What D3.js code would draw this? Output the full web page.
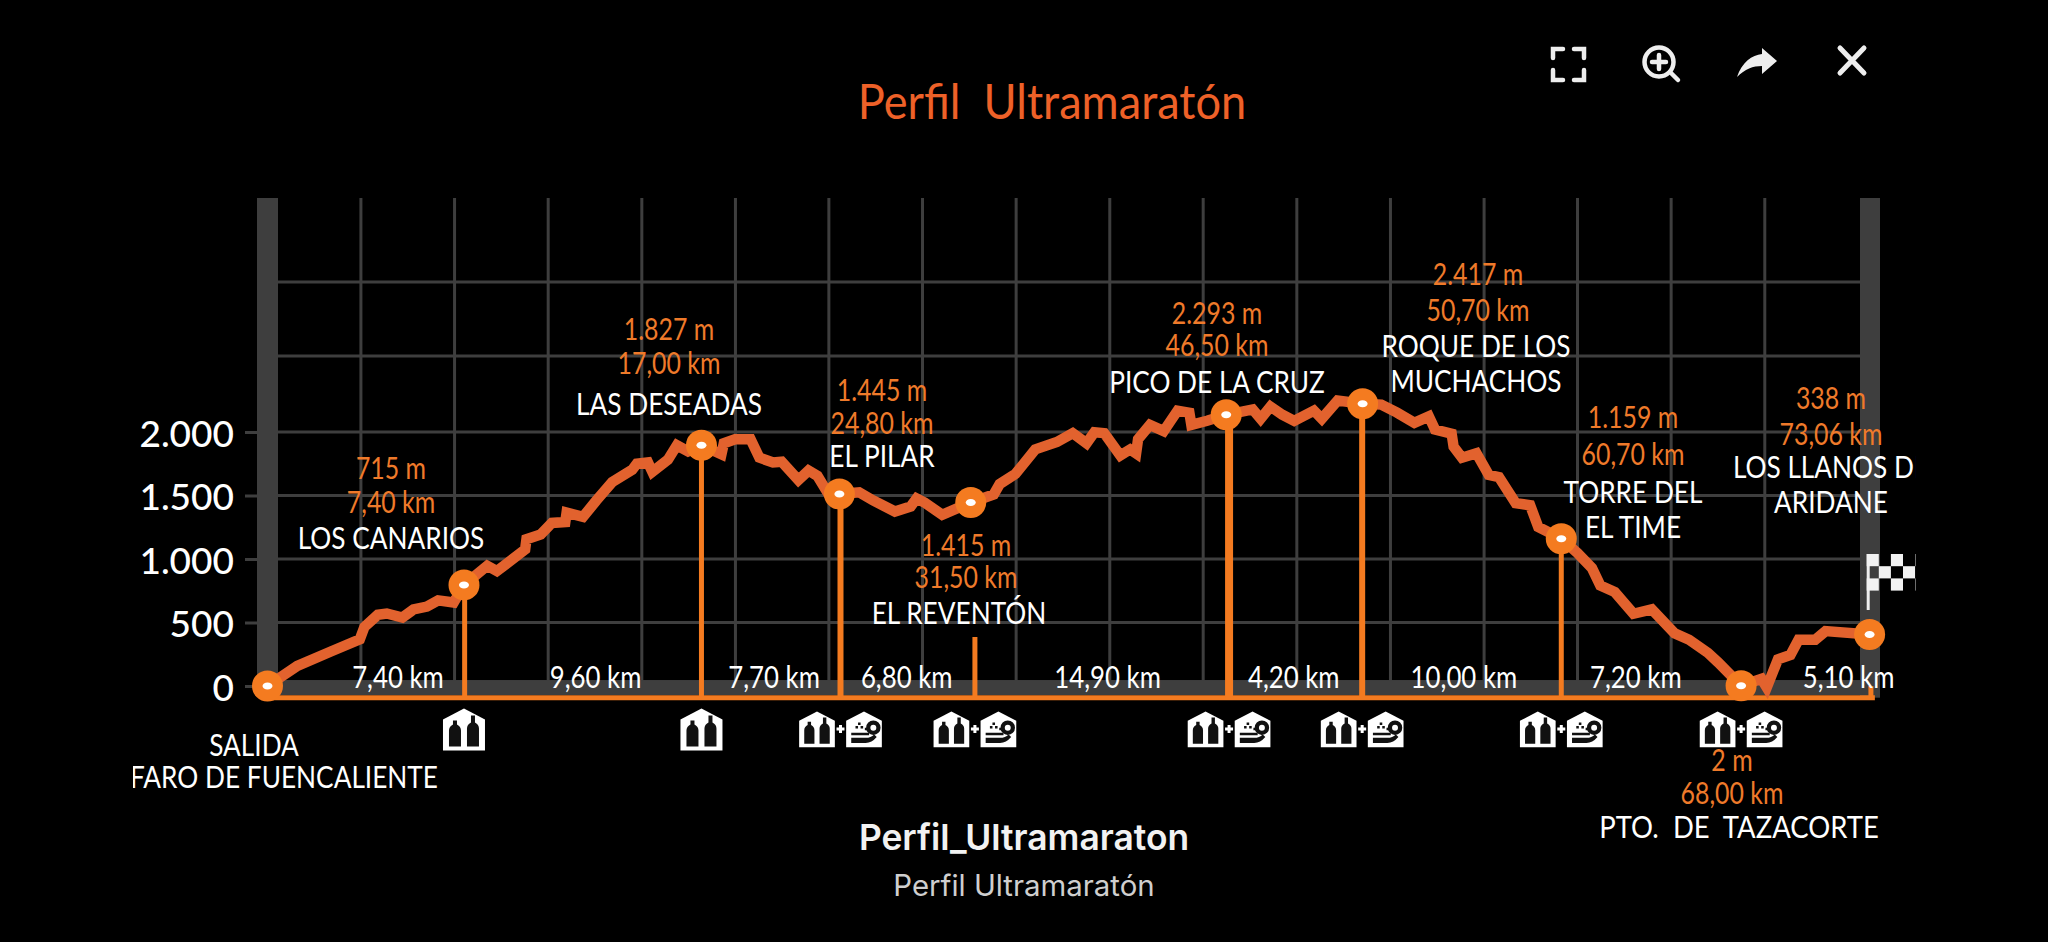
<!DOCTYPE html>
<html>
<head>
<meta charset="utf-8">
<title>Perfil Ultramaratón</title>
<script src="https://cdn.jsdelivr.net/npm/d3@7"></script>
<style>
  html, body { margin: 0; background: #000; overflow: hidden; }
  text { font-family: Lato, sans-serif; }
</style>
</head>
<body>
<script>
// profile as drawn: position along the axis (km) and height on the axis (m)
const profileKm = [0, 1.36, 2.89, 4.21, 4.42, 5.03, 5.44, 6.15, 6.66, 7.27, 7.78, 8.49, 8.96, 10.02, 10.46, 11.75, 11.81, 12.46, 12.97, 13.58, 13.64, 14.39, 15.0, 15.72, 16.63, 16.84, 17.35, 17.55, 18.26, 18.67, 19.18, 19.79, 20.7, 20.81, 21.32, 22.03, 22.43, 23.05, 23.45, 24.21, 24.67, 25.08, 25.59, 26.08, 26.98, 27.62, 28.61, 29.33, 29.6, 29.96, 30.77, 32.07, 33.12, 33.39, 34.11, 35.01, 36.0, 36.72, 37.35, 37.71, 38.16, 38.89, 39.34, 39.61, 39.7, 40.24, 40.87, 41.5, 42.04, 42.13, 42.85, 43.72, 44.93, 45.29, 45.74, 46.28, 46.82, 47.72, 48.08, 48.8, 49.94, 50.79, 51.51, 52.3, 52.96, 53.24, 54, 54.09, 54.47, 55.13, 55.69, 56.16, 56.92, 57.58, 57.95, 59.0, 59.74, 60.4, 60.78, 61.44, 62.29, 63.13, 64.17, 64.83, 65.68, 66.15, 67.2, 68.13, 68.37, 68.88, 69.45, 69.82, 70.58, 71.05, 73.06];
const profileM = [0, 159, 272, 368, 465, 561, 571, 539, 603, 625, 674, 657, 796, 947, 905, 1075, 1156, 1194, 1284, 1291, 1365, 1332, 1461, 1606, 1702, 1750, 1760, 1686, 1782, 1895, 1847, 1895, 1824, 1911, 1943, 1943, 1798, 1760, 1766, 1622, 1696, 1654, 1509, 1512, 1525, 1461, 1374, 1413, 1477, 1445, 1348, 1445, 1509, 1590, 1670, 1863, 1921, 1991, 1911, 1998, 1991, 1815, 1863, 1831, 1943, 2056, 2007, 2168, 2152, 2056, 2088, 2136, 2178, 2104, 2200, 2136, 2088, 2168, 2104, 2248, 2223, 2216, 2152, 2072, 2123, 2020, 1986, 1884, 1798, 1833, 1662, 1645, 1440, 1423, 1252, 1160, 1047, 928, 791, 740, 569, 603, 415, 364, 262, 186, 2, 57, -12, 210, 244, 364, 364, 432, 405];

// stations, start to finish
const stationAxisKm = [0, 8.96, 19.79, 26.08, 32.07, 43.72, 49.94, 59.0, 67.2, 73.06];
const stationAxisM = [0, 796, 1895, 1512, 1445, 2136, 2223, 1160, 2, 405];
const stationHeight = ["", "715 m", "1.827 m", "1.445 m", "1.415 m", "2.293 m", "2.417 m", "1.159 m", "2 m", "338 m"];
const stationDistance = ["", "7,40 km", "17,00 km", "24,80 km", "31,50 km", "46,50 km", "50,70 km", "60,70 km", "68,00 km", "73,06 km"];
const stationNames = [["SALIDA"], ["LOS CANARIOS"], ["LAS DESEADAS"], ["EL PILAR"], ["EL REVENTÓN"], ["PICO DE LA CRUZ"], ["ROQUE DE LOS", "MUCHACHOS"], ["TORRE DEL", "EL TIME"], ["PTO.  DE  TAZACORTE"], ["LOS LLANOS DE", "ARIDANE"]];

// drop lines: axis position and the height each one reaches
const dropKm = [8.99, 19.79, 26.13, 32.26, 43.85, 49.92, 59.0, 73.12];
const dropTopM = [796, 1895, 1512, 386, 2136, 2223, 1160, 0];
const dropWidth = [5, 5, 6, 5, 8, 6, 5, 5];

// aid station icons below the axis
const aidKm = [8.96, 19.79, 26.13, 32.26, 43.85, 49.92, 59.0, 67.2];
const aidKind = ["water", "water", "both", "both", "both", "both", "both", "both"];

const segmentLabels = ["7,40 km", "9,60 km", "7,70 km", "6,80 km", "14,90 km", "4,20 km", "10,00 km", "7,20 km", "5,10 km"];
const segmentKm = [5.95, 14.96, 23.1, 29.15, 38.31, 46.8, 54.56, 62.4, 72.1];

const yTicks = [0, 500, 1000, 1500, 2000];
const yTickLabels = ["0", "500", "1.000", "1.500", "2.000"];
const yGrid = [500, 1000, 1500, 2000, 2598, 3181];
const xGrid = [4.26, 8.53, 12.8, 17.07, 21.34, 25.6, 29.87, 34.14, 38.41, 42.67, 46.94, 51.21, 55.48, 59.74, 64.01, 68.28];

const width = 2048, height = 942;
const gridCol = "#3e3e3e", orange = "#f47b20", lineCol = "#e2622e", labelCol = "#ef7a2a";

// scales
const x = d3.scaleLinear().domain([0, 73.06]).range([267.5, 1869.6]);
const y = d3.scaleLinear().domain([0, 2000]).range([686, 432]);

const svg = d3.select("body").append("svg")
  .attr("width", width)
  .attr("height", height)
  .style("display", "block")
  .style("background", "#000");

svg.append("clipPath").attr("id", "pic")
  .append("rect").attr("x", 133).attr("y", 0).attr("width", 1782.5).attr("height", height);

const chart = svg.append("g").attr("clip-path", "url(#pic)");

function txt(parent, s, tx, ty, size, col, sx, anchor) {
  return parent.append("text")
    .attr("transform", "translate(" + tx + "," + ty + ") scale(" + (sx || 0.86) + ",1)")
    .attr("text-anchor", anchor || "middle")
    .attr("font-size", size)
    .attr("fill", col)
    .attr("xml:space", "preserve")
    .style("white-space", "pre")
    .text(s);
}

// grid
chart.selectAll(".gv").data(xGrid).enter().append("line")
  .attr("x1", d => x(d)).attr("x2", d => x(d))
  .attr("y1", 198).attr("y2", 686)
  .attr("stroke", gridCol).attr("stroke-width", 3);
chart.selectAll(".gh").data(yGrid).enter().append("line")
  .attr("x1", 278).attr("x2", 1860)
  .attr("y1", d => y(d)).attr("y2", d => y(d))
  .attr("stroke", gridCol).attr("stroke-width", 3);

// side bars and bottom strip
chart.append("rect").attr("x", 257).attr("y", 198).attr("width", 21).attr("height", y(-71) - 198).attr("fill", gridCol);
chart.append("rect").attr("x", 1860).attr("y", 198).attr("width", 20).attr("height", y(-92) - 198).attr("fill", gridCol);
chart.append("rect").attr("x", 257).attr("y", y(47)).attr("width", 1620).attr("height", y(-71) - y(47)).attr("fill", gridCol);

// y axis
const yAxis = chart.append("g")
  .attr("transform", "translate(278,0)")
  .call(d3.axisLeft(y).tickValues(yTicks).tickSize(33).tickPadding(11)
    .tickFormat((d, i) => yTickLabels[i]));
yAxis.select(".domain").remove();
yAxis.selectAll("line").attr("stroke", gridCol).attr("stroke-width", 3);
yAxis.selectAll("text")
  .attr("font-size", 37)
  .attr("font-weight", 500)
  .attr("fill", "#fff")
  .style("font-family", "Lato, sans-serif")
  .attr("dy", 14);

// baseline and drop lines
chart.append("line")
  .attr("x1", x(0)).attr("x2", x(73.3))
  .attr("y1", y(-92)).attr("y2", y(-92))
  .attr("stroke", orange).attr("stroke-width", 5);
chart.selectAll(".drop").data(dropKm).enter().append("line")
  .attr("x1", d => x(d)).attr("x2", d => x(d))
  .attr("y1", (d, i) => y(dropTopM[i])).attr("y2", y(-92))
  .attr("stroke", orange)
  .attr("stroke-width", (d, i) => dropWidth[i]);

// elevation line
const line = d3.line().x(d => x(d[0])).y(d => y(d[1]));
chart.append("path")
  .datum(d3.zip(profileKm, profileM))
  .attr("d", line)
  .attr("fill", "none")
  .attr("stroke", lineCol)
  .attr("stroke-width", 10.5)
  .attr("stroke-linejoin", "miter")
  .attr("stroke-miterlimit", 3);

// station markers
const marks = chart.selectAll(".mark").data(d3.zip(stationAxisKm, stationAxisM)).enter().append("g")
  .attr("transform", d => "translate(" + x(d[0]) + "," + y(d[1]) + ")");
marks.append("circle").attr("r", 15.5).attr("fill", orange);
marks.append("ellipse").attr("rx", 5).attr("ry", 3.5).attr("fill", "#fff");

// icons
function waterIcon(g) {
  g.append("path").attr("d", "M-21,42V11L0,0L21,11V42Z").attr("fill", "#fff");
  g.append("path").attr("d", "M-15,38V22Q-15,18-11,16V12H-7V16Q-3,18-3,22V38Z").attr("fill", "#111");
  g.append("path").attr("d", "M3,38V20Q3,16,7,14V7H11V14Q15,16,15,20V38Z").attr("fill", "#111");
}
function foodIcon(g) {
  g.append("path").attr("d", "M-21,42V11L0,0L21,11V42Z").attr("fill", "#fff");
  g.append("path").attr("d", "M-15,25H6V28H-15ZM-15,31H2Q8,31,12,27L15,30Q9,37,2,37H-15Z").attr("fill", "#111");
  g.append("path").attr("d", "M-10,17h3v3h-3zM-4,17h3v3h-3zM1,19h3v3h-3zM-7,13h3v3h-3z").attr("fill", "#111");
  g.append("circle").attr("cx", 11).attr("cy", 19).attr("r", 6).attr("fill", "none").attr("stroke", "#111").attr("stroke-width", 5);
}
aidKm.forEach((km, i) => {
  const cx = x(km);
  if (aidKind[i] == "water") {
    waterIcon(chart.append("g").attr("transform", "translate(" + cx + ",708.5)"));
  } else {
    waterIcon(chart.append("g").attr("transform", "translate(" + (cx - 23.5) + ",711.5) scale(0.85)"));
    foodIcon(chart.append("g").attr("transform", "translate(" + (cx + 23.5) + ",711.5) scale(0.85)"));
    chart.append("path").attr("d", "M" + (cx - 4) + ",729h8M" + (cx) + ",725v8").attr("stroke", "#fff").attr("stroke-width", 3);
  }
});

// segment distances
segmentLabels.forEach((s, i) => txt(chart, s, x(segmentKm[i]), 688, 30, "#fff"));

// station labels: [centre, height baseline, distance baseline, name baselines, name shift]
const labelPlace = [
  [254, null, null, [755.5], 0],
  [391, 479, 513, [549], 0],
  [669, 340, 374, [415], 0],
  [882, 401, 433.5, [467], 0],
  [966, 555.5, 588, [624], -7],
  [1217, 324, 356, [393], 0],
  [1478, 285, 321, [356.5, 391.6], -2],
  [1633, 428, 465, [503, 538], 0],
  [1732, 771, 804, [838], 7],
  [1831, 408.5, 444.5, [478, 513], 0]
];
stationNames.forEach((names, i) => {
  const p = labelPlace[i];
  if (stationHeight[i]) {
    txt(chart, stationHeight[i], p[0], p[1], 30, labelCol, 0.83);
    txt(chart, stationDistance[i], p[0], p[2], 30, labelCol, 0.83);
  }
  names.forEach((n, j) => txt(chart, n, p[0] + p[4], p[3][j], 30.5, "#fff", i == 8 ? 0.9 : 0.86));
});
txt(chart, "FARO DE FUENCALIENTE", 438, 788, 30.5, "#fff", 0.86, "end");

// finish flag
const flagCells = [[0, 0], [2, 0], [4, 0], [1, 1], [3, 1], [0, 2], [2, 2], [4, 2]];
const flag = chart.append("g").attr("transform", "translate(1866.7,554)");
flag.append("rect").attr("width", 3).attr("height", 56).attr("fill", "#eee");
flag.selectAll("rect.c").data(flagCells).enter().append("rect")
  .attr("class", "c")
  .attr("x", d => d[0] * 12.1)
  .attr("y", d => d[1] * 12.2)
  .attr("width", 12.1).attr("height", 12.2).attr("fill", "#f2f2f2");

// title and caption
txt(svg, "Perfil  Ultramaratón", 1052, 119, 48, "#ee6128", 0.94);
svg.append("text").attr("x", 1024).attr("y", 850).attr("text-anchor", "middle")
  .attr("font-size", 35.4).attr("font-weight", 600).attr("fill", "#f2f2f2")
  .style("font-family", "Inter").text("Perfil_Ultramaraton");
svg.append("text").attr("x", 1024).attr("y", 896).attr("text-anchor", "middle")
  .attr("font-size", 29.4).attr("fill", "#cfcfcf")
  .style("font-family", "Inter").text("Perfil Ultramaratón");

// viewer buttons
const btn = svg.append("g").attr("fill", "none").attr("stroke", "#eee").attr("stroke-width", 4.5).attr("stroke-linecap", "round");
btn.append("path").attr("d", "M1553,58V49H1563M1574,49H1584V58M1584,70V80H1574M1563,80H1553V70");
btn.append("circle").attr("cx", 1659).attr("cy", 62).attr("r", 14.5);
btn.append("path").attr("d", "M1670,72L1678,80M1652,62H1666M1659,55V69");
btn.append("path").attr("d", "M1840,48L1864,73M1864,48L1840,73").attr("stroke-width", 5);
btn.append("path")
  .attr("d", "M1737,77C1742,62,1752,55,1762,54V48L1777,61L1762,74V66C1753,66,1745,69,1737,77Z")
  .attr("fill", "#eee").attr("stroke", "none");
</script>
</body>
</html>
